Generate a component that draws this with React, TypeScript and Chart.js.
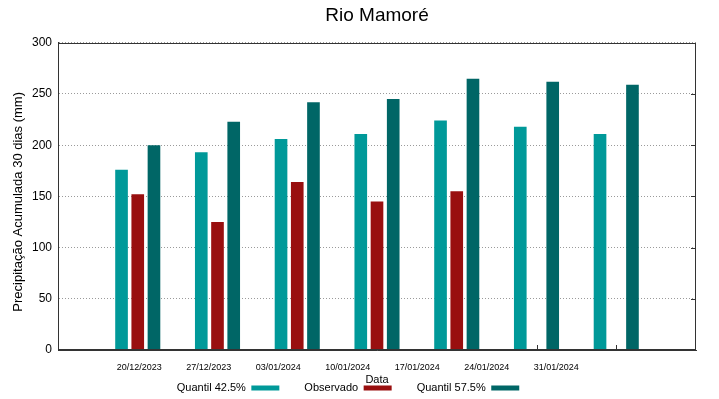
import React, { useEffect, useRef } from 'react';
import { Chart, registerables } from 'chart.js';

Chart.register(...registerables);

// ---- data ----
const dates = ['20/12/2023', '27/12/2023', '03/01/2024', '10/01/2024', '17/01/2024', '24/01/2024', '31/01/2024'];
const quantil425: (number | null)[] = [176, 193, 206, 211, 224, 218, 211];
const observado: (number | null)[] = [152, 125, 164, 145, 155, null, null];
const quantil575: (number | null)[] = [200, 223, 242, 245, 265, 262, 259];
const yMin = 0;
const yMax = 300;
const yStep = 50;

const FONT = '"Liberation Sans", Arial, sans-serif';

// category slots: one empty slot on each side of the dates (gnuplot x range)
const slots = ['', ...dates, ''];
const pad = (a: (number | null)[]) => [null, ...a, null];

// the date labels in the original are laid out on their own spacing (in x-axis units)
const LABEL_START = 1.018;
const LABEL_STEP = 0.8715;

const framePlugin = {
  id: 'frame',
  beforeDatasetsDraw(chart: any) {
    const { ctx, chartArea: a, scales } = chart;
    ctx.save();
    ctx.strokeStyle = '#333';
    ctx.lineWidth = 1;
    ctx.beginPath();
    scales.y.ticks.forEach((t: any) => {
      const y = Math.round(scales.y.getPixelForValue(t.value)) + 0.5;
      ctx.moveTo(a.right - 5, y);
      ctx.lineTo(a.right, y);
    });
    dates.forEach((_, i) => {
      const x = Math.round(scales.x.getPixelForValue(i + 1)) + 0.5;
      ctx.moveTo(x, a.bottom);
      ctx.lineTo(x, a.bottom - 5);
    });
    ctx.stroke();
    ctx.restore();
  },
  afterDatasetsDraw(chart: any) {
    const { ctx, chartArea: a } = chart;
    ctx.save();
    ctx.strokeStyle = '#333';
    ctx.lineWidth = 1;
    const l = Math.round(a.left) + 0.5;
    const t = Math.round(a.top) + 0.5;
    const r = Math.round(a.right) - 0.5;
    const b = Math.round(a.bottom) - 0.5;
    ctx.strokeRect(l, t, r - l, b - t);
    ctx.restore();
  },
  afterDraw(chart: any) {
    const { ctx, chartArea: a, scales } = chart;
    ctx.save();
    ctx.fillStyle = '#000';
    ctx.font = `9px ${FONT}`;
    ctx.textAlign = 'center';
    ctx.textBaseline = 'middle';
    dates.forEach((d, i) => {
      const x = scales.x.getPixelForValue(LABEL_START + i * LABEL_STEP);
      ctx.fillText(d, x, a.bottom + 17.5);
    });
    ctx.restore();
  },
};

export default function App() {
  const ref = useRef<HTMLCanvasElement | null>(null);

  useEffect(() => {
    if (!ref.current) return;
    Chart.defaults.font.family = FONT;
    const chart = new Chart(ref.current, {
      type: 'bar',
      data: {
        labels: slots,
        datasets: [
          { label: 'Quantil 42.5%', data: pad(quantil425), backgroundColor: '#009999', borderColor: '#009999', borderWidth: 0, xAxisID: 'x', yAxisID: 'y' },
          { label: 'Observado', data: pad(observado), backgroundColor: '#990f0f', borderColor: '#990f0f', borderWidth: 0, xAxisID: 'x', yAxisID: 'y' },
          { label: 'Quantil 57.5%', data: pad(quantil575), backgroundColor: '#006666', borderColor: '#006666', borderWidth: 0, xAxisID: 'x', yAxisID: 'y' },
        ],
      },
      options: {
        animation: false,
        responsive: false,
        devicePixelRatio: 1,
        datasets: { bar: { barPercentage: 0.78, categoryPercentage: 0.61 } },
        layout: { padding: { left: 0, right: 23, top: 0, bottom: 0 } },
        plugins: {
          title: {
            display: true,
            text: 'Rio Mamoré',
            fullSize: false,
            color: '#000',
            font: { size: 19, weight: 'normal', family: FONT },
            padding: { top: 4, bottom: 16 },
          },
          legend: {
            position: 'bottom',
            rtl: true,
            reverse: true,
            maxHeight: 41.5,
            labels: {
              boxWidth: 28,
              boxHeight: 5,
              padding: 25,
              color: '#000',
              font: { size: 11, family: FONT },
            },
          } as any,
          tooltip: { enabled: false },
        },
        scales: {
          x: {
            type: 'category',
            position: 'bottom',
            offset: false,
            grid: { display: false },
            ticks: { display: false },
            border: { display: true, color: '#333' },
            title: {
              display: true,
              text: 'Data',
              color: '#000',
              font: { size: 11, family: FONT },
              padding: { top: 0, bottom: -29 },
            },
            afterFit: (s: any) => { s.height = 7.5; },
          },
          y: {
            min: yMin,
            max: yMax,
            ticks: { stepSize: yStep, padding: 6, color: '#000', font: { size: 12, family: FONT } },
            grid: { color: '#9a9a9a', drawTicks: false },
            border: { display: true, color: '#333', dash: [1, 2] },
            title: {
              display: true,
              text: 'Precipitação Acumulada 30 dias (mm)   ',
              color: '#000',
              font: { size: 13, family: FONT },
              padding: { top: 11, bottom: 0 },
            },
            afterFit: (s: any) => { s.width = 58; },
          },
        },
      } as any,
      plugins: [framePlugin],
    });
    return () => chart.destroy();
  }, []);

  return (
    <div style={{ position: 'fixed', left: 0, top: 0, width: 719, height: 399, background: '#fff' }}>
      <canvas ref={ref} width={719} height={399} style={{ display: 'block' }} />
    </div>
  );
}
